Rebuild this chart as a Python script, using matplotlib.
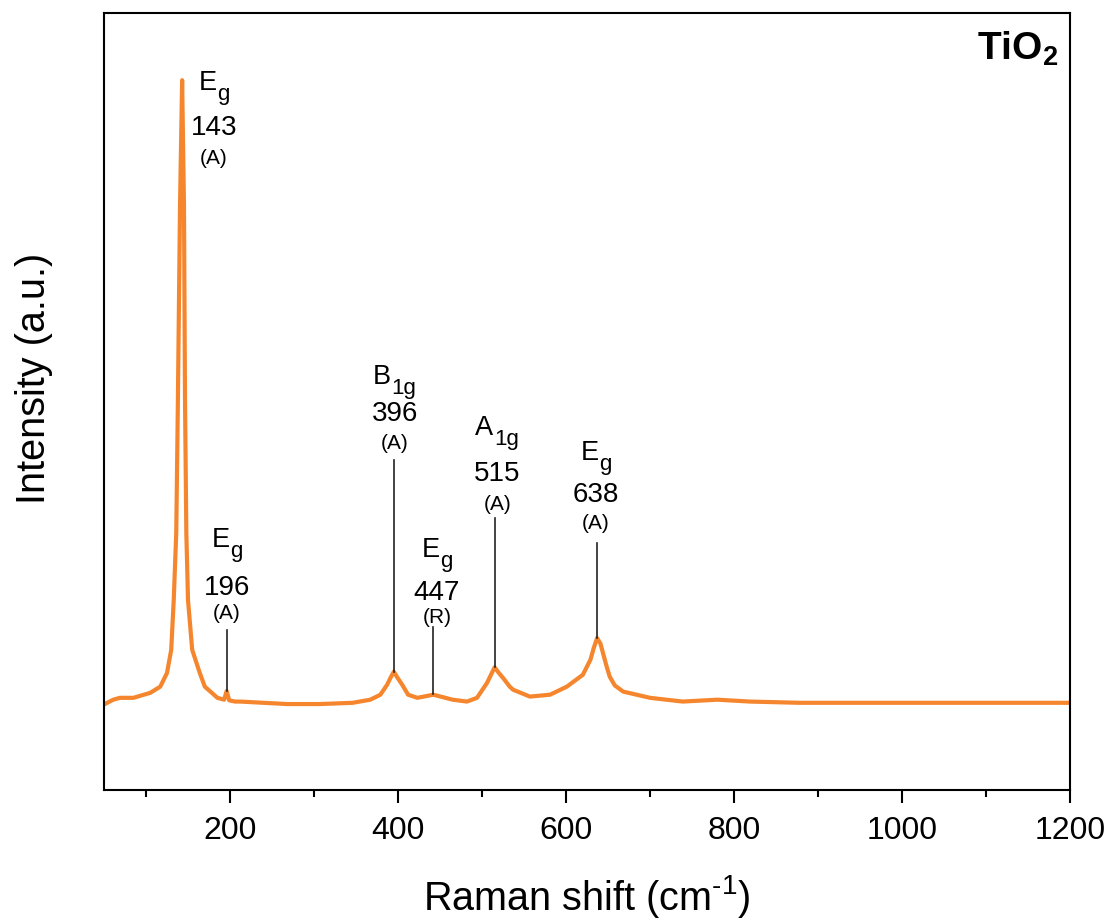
import matplotlib
matplotlib.use("Agg")
import matplotlib.pyplot as plt
import matplotlib.transforms as mtransforms

plt.rcParams['font.family'] = ['Liberation Sans', 'DejaVu Sans']
plt.rcParams['mathtext.default'] = 'regular'

# spectrum (Raman shift in cm-1, normalised intensity)
raman_shift = [51, 61, 69, 85, 105, 117, 125, 130, 133, 136, 138, 140.5,
               143, 145.2, 146.4, 148, 150, 155, 164, 170, 185, 193, 196,
               199, 206, 212, 268, 307, 346, 367, 379, 387, 391, 395, 399,
               405, 412, 423, 442, 465, 482, 494, 506, 511, 515, 520, 525,
               533, 537, 557, 581, 601, 620, 629, 633, 637, 641, 644, 648,
               652, 658, 668, 700, 739, 780, 819, 878, 1000, 1200]
intensity = [-0.002, 0.005, 0.008, 0.008, 0.016, 0.026, 0.048, 0.085, 0.165,
             0.273, 0.49, 0.80, 1.0, 0.80, 0.49, 0.273, 0.165, 0.085, 0.048,
             0.026, 0.008, 0.005, 0.019, 0.004, 0.002, 0.002, -0.002, -0.002,
             0.0, 0.005, 0.013, 0.029, 0.040, 0.050, 0.041, 0.029, 0.013,
             0.008, 0.013, 0.005, 0.002, 0.008, 0.032, 0.046, 0.057, 0.048,
             0.040, 0.026, 0.021, 0.010, 0.013, 0.026, 0.045, 0.069, 0.088,
             0.104, 0.095, 0.080, 0.060, 0.042, 0.028, 0.018, 0.008, 0.002,
             0.005, 0.002, 0.0, 0.0, 0.0]

# peak assignments
mode_main = ["E", "E", "B", "E", "A", "E"]
mode_sub = ["g", "g", "1g", "g", "1g", "g"]
positions = ["143", "196", "396", "447", "515", "638"]
phases = ["(A)", "(A)", "(A)", "(R)", "(A)", "(A)"]

# marker lines: x, from peak top up to line top
line_x = [None, 196, 395.5, 442, 515.5, 637]
line_bottom = [None, 0.019, 0.050, 0.014, 0.057, 0.104]
line_top = [None, 0.117, 0.390, 0.122, 0.297, 0.257]

# label placement: x centre and baselines of the three rows
label_x = [181, 196.5, 396, 446.4, 518, 635.7]
mode_y = [0.984, 0.250, 0.512, 0.234, 0.430, 0.390]
num_y = [0.912, 0.173, 0.453, 0.165, 0.356, 0.323]
phase_y = [0.865, 0.135, 0.408, 0.128, 0.310, 0.279]

fig = plt.figure(figsize=(11.10, 9.19), dpi=100)
ax = fig.add_axes([0.0937, 0.1404, 0.8703, 0.8455])

ax.plot(raman_shift, intensity, color="#F5862E", lw=3.0,
        solid_joinstyle="round")

groups = []
for i in range(len(positions)):
    if line_x[i] is not None:
        ax.plot([line_x[i], line_x[i]], [line_bottom[i], line_top[i]],
                color="#222222", lw=1.2)
    t_main = ax.text(label_x[i], mode_y[i], mode_main[i], ha="center",
                     va="baseline", fontsize=19.5)
    t_sub = ax.annotate(mode_sub[i], xy=(1, 0), xycoords=t_main,
                        xytext=(0.3, -3.0), textcoords="offset points",
                        ha="left", va="baseline", fontsize=16)
    groups.append((t_main, t_sub))
    ax.text(label_x[i], num_y[i], positions[i], ha="center", va="baseline",
            fontsize=20)
    ax.text(label_x[i], phase_y[i], phases[i], ha="center", va="baseline",
            fontsize=15)

ax.text(0.988, 0.978, r"TiO$_{2}$", transform=ax.transAxes, ha="right",
        va="top", fontsize=28, fontweight="bold")

ax.set_xlim(50, 1200)
ax.set_ylim(-0.14, 1.108)
ax.set_xticks([200, 400, 600, 800, 1000, 1200])
ax.set_xticks(range(100, 1200, 200), minor=True)
ax.set_yticks([])
ax.tick_params(axis="x", which="major", direction="out", length=9, width=1.5,
               labelsize=23, pad=10)
ax.tick_params(axis="x", which="minor", direction="out", length=5, width=1.5)
for sp in ax.spines.values():
    sp.set_linewidth(1.5)

ax.set_xlabel("Raman shift (cm$^{\u20101}$)", fontsize=28.5, labelpad=19)
ax.set_ylabel("Intensity (a.u.)", fontsize=28.5)
ax.yaxis.set_label_coords(-0.053, 0.53)

# centre each letter+subscript group over its column
fig.canvas.draw()
r = fig.canvas.get_renderer()
for t_main, t_sub in groups:
    b_sub = t_sub.get_window_extent(r)
    b_main = t_main.get_window_extent(r)
    dx = (b_sub.x1 - b_main.x1) / 2.0
    t_main.set_transform(ax.transData + mtransforms.Affine2D().translate(-dx, 0))

fig.savefig("out.png", dpi=100)
